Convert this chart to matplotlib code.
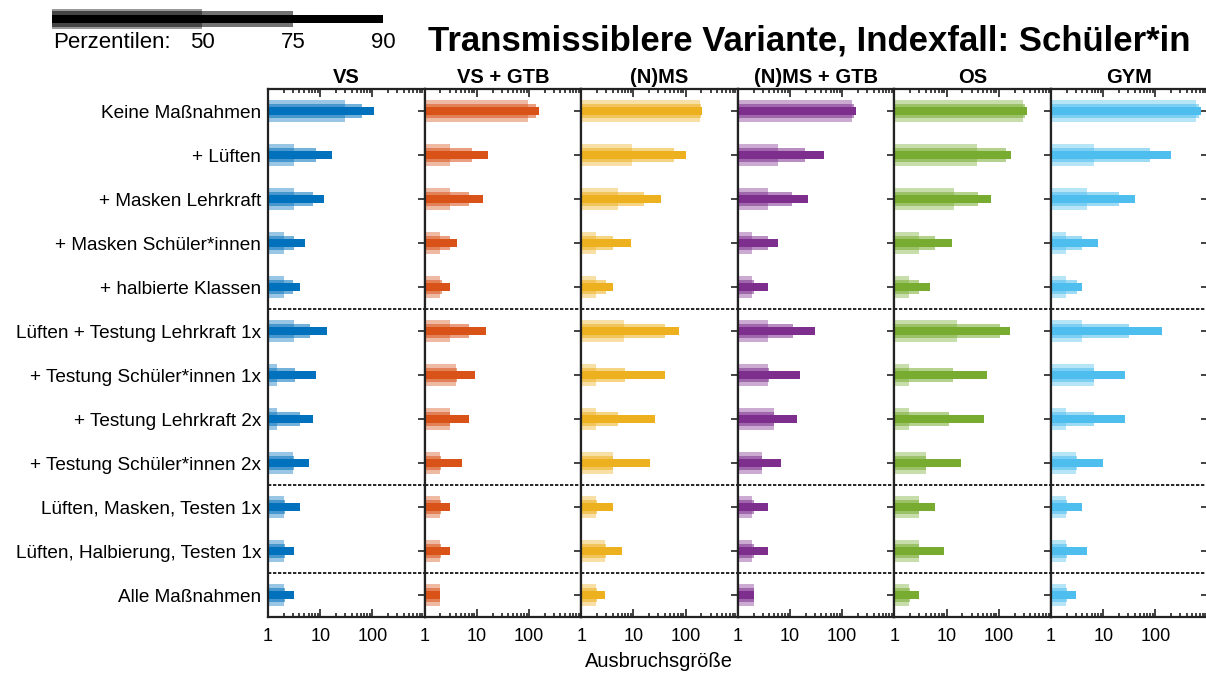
import matplotlib
matplotlib.use("Agg")
import matplotlib.pyplot as plt
from matplotlib.ticker import LogLocator, NullFormatter, FixedLocator, FixedFormatter

plt.rcParams['font.family'] = ['Liberation Sans', 'DejaVu Sans']

# rows (measures) and school types
massnahmen = ["Keine Maßnahmen", "+ Lüften", "+ Masken Lehrkraft",
              "+ Masken Schüler*innen", "+ halbierte Klassen",
              "Lüften + Testung Lehrkraft 1x", "+ Testung Schüler*innen 1x",
              "+ Testung Lehrkraft 2x", "+ Testung Schüler*innen 2x",
              "Lüften, Masken, Testen 1x", "Lüften, Halbierung, Testen 1x",
              "Alle Maßnahmen"]
schulen = ["VS", "VS + GTB", "(N)MS", "(N)MS + GTB", "OS", "GYM"]
farben = ["#0072BD", "#D95319", "#EDB120", "#7E2F8E", "#77AC30", "#4DBEEE"]

# outbreak size percentiles (50 / 75 / 90) per school type
vs_p50 = [30, 3.1, 3.1, 2.0, 2.0, 3.1, 1.5, 1.5, 3.0, 2.0, 2.0, 2.0]
vs_p75 = [63, 8.4, 7.2, 3.1, 3.0, 6.4, 3.3, 4.1, 3.1, 2.1, 2.1, 2.1]
vs_p90 = [105, 16.7, 11.6, 5.1, 4.1, 13.4, 8.4, 7.4, 6.2, 4.1, 3.1, 3.1]

vsg_p50 = [94, 3.0, 3.0, 2.0, 2.0, 3.0, 4.0, 3.0, 2.0, 2.0, 2.0, 2.0]
vsg_p75 = [136, 8.1, 7.1, 3.0, 2.2, 7.1, 4.1, 3.1, 2.1, 2.1, 2.1, 2.0]
vsg_p90 = [158, 16.5, 13.2, 4.1, 3.0, 14.7, 9.1, 7.1, 5.1, 3.0, 3.0, 2.0]

ms_p50 = [186, 9.4, 5.0, 1.9, 1.9, 6.7, 1.9, 1.9, 4.0, 1.9, 2.9, 1.9]
ms_p75 = [200, 61, 16.3, 4.0, 3.0, 41, 7.0, 5.0, 4.1, 2.0, 3.0, 2.0]
ms_p90 = [209, 100, 34, 9.0, 4.0, 76, 40, 26, 21, 4.0, 6.0, 2.9]

msg_p50 = [154, 5.9, 3.8, 1.9, 1.9, 3.8, 3.8, 4.9, 2.85, 1.9, 1.9, 2.0]
msg_p75 = [170, 19.4, 10.8, 3.8, 2.0, 11.6, 3.9, 5.0, 2.9, 2.0, 2.0, 2.0]
msg_p90 = [183, 44, 22.6, 5.9, 3.8, 30, 15.6, 13.8, 6.8, 3.8, 3.8, 2.0]

os_p50 = [294, 38, 13.8, 2.9, 1.9, 16, 1.9, 1.9, 4.0, 2.9, 2.9, 1.9]
os_p75 = [316, 136, 40, 5.9, 2.9, 104, 13.2, 11, 4.1, 3.0, 3.0, 2.0]
os_p90 = [340, 175, 72, 12.9, 4.9, 167, 60, 52, 19, 5.9, 8.9, 2.9]

gym_p50 = [600, 6.7, 4.9, 1.9, 1.9, 3.9, 6.7, 1.9, 3.0, 1.9, 1.9, 1.9]
gym_p75 = [680, 80, 19.7, 3.9, 3.1, 31, 6.8, 6.7, 3.1, 2.0, 2.0, 2.0]
gym_p90 = [760, 200, 40, 7.8, 3.9, 134, 26.5, 26.5, 9.7, 3.9, 4.9, 3.0]

daten = [(vs_p50, vs_p75, vs_p90), (vsg_p50, vsg_p75, vsg_p90),
         (ms_p50, ms_p75, ms_p90), (msg_p50, msg_p75, msg_p90),
         (os_p50, os_p75, os_p90), (gym_p50, gym_p75, gym_p90)]

trennlinien = [5.5, 9.5, 11.5]
perzentile = ["50", "75", "90"]

W, H = 1206, 673
fig = plt.figure(figsize=(W / 100, H / 100), dpi=100)


def px(l, t, w, h):
    return [l / W, 1 - (t + h) / H, w / W, h / H]


y = list(range(1, len(massnahmen) + 1))
breite = 156.6
for i, name in enumerate(schulen):
    ax = fig.add_axes(px(268 + i * breite, 89, breite, 528))
    ax.set_axisbelow(True)
    p50, p75, p90 = daten[i]
    c = farben[i]
    ax.barh(y, [v - 1 for v in p50], left=1, height=0.5, color=c, alpha=0.4, lw=0)
    ax.barh(y, [v - 1 for v in p75], left=1, height=0.34, color=c, alpha=0.55, lw=0)
    ax.barh(y, [v - 1 for v in p90], left=1, height=0.19, color=c, lw=0)
    for t in trennlinien:
        ax.axhline(t, color="black", lw=1.2, ls=(0, (2, 1)))
    ax.set_xscale("log")
    ax.set_xlim(1, 1000)
    ax.set_ylim(12.5, 0.5)
    ax.xaxis.set_major_locator(FixedLocator([1, 10, 100]))
    ax.xaxis.set_major_formatter(FixedFormatter(["1", "10", "100"]))
    ax.xaxis.set_minor_locator(LogLocator(base=10, subs=range(2, 10)))
    ax.xaxis.set_minor_formatter(NullFormatter())
    ax.set_yticks(y)
    if i == 0:
        ax.set_yticklabels(massnahmen, fontsize=13.7)
    else:
        ax.set_yticklabels([])
    ax.tick_params(axis="both", which="both", direction="in", top=True, right=True,
                   width=1.2, color="#222222")
    ax.tick_params(axis="x", which="major", length=6, labelsize=13, pad=8)
    ax.tick_params(axis="x", which="minor", length=3)
    ax.tick_params(axis="y", length=5, pad=5)
    for s in ax.spines.values():
        s.set_linewidth(1.6)
        s.set_color("#222222")
    ax.set_title(name, fontsize=14.5, fontweight="bold", pad=4)

fig.text(659 / W, 1 - 667 / H, "Ausbruchsgröße", fontsize=14.5, ha="center", va="baseline")

fig.text(428 / W, 1 - 50 / H, "Transmissiblere Variante, Indexfall: Schüler*in",
         fontsize=25, fontweight="bold", ha="left", va="baseline")

# percentile legend
lax = fig.add_axes(px(52, 6, 331, 26))
lax.set_xlim(0, 1)
lax.set_ylim(-0.5, 0.5)
lax.axis("off")
enden = [0.453, 0.728, 1.0]
lax.barh(0, enden[0], left=0, height=0.8, color="black", alpha=0.4, lw=0)
lax.barh(0, enden[1], left=0, height=0.58, color="black", alpha=0.55, lw=0)
lax.barh(0, enden[2], left=0, height=0.3, color="black", lw=0)
fig.text(53 / W, 1 - 48 / H, "Perzentilen:", fontsize=16, va="baseline", ha="left")
for e, lab in zip(enden, perzentile):
    fig.text((52 + e * 331) / W, 1 - 48 / H, lab, fontsize=16, va="baseline", ha="center")

fig.savefig("out.png", dpi=100)
